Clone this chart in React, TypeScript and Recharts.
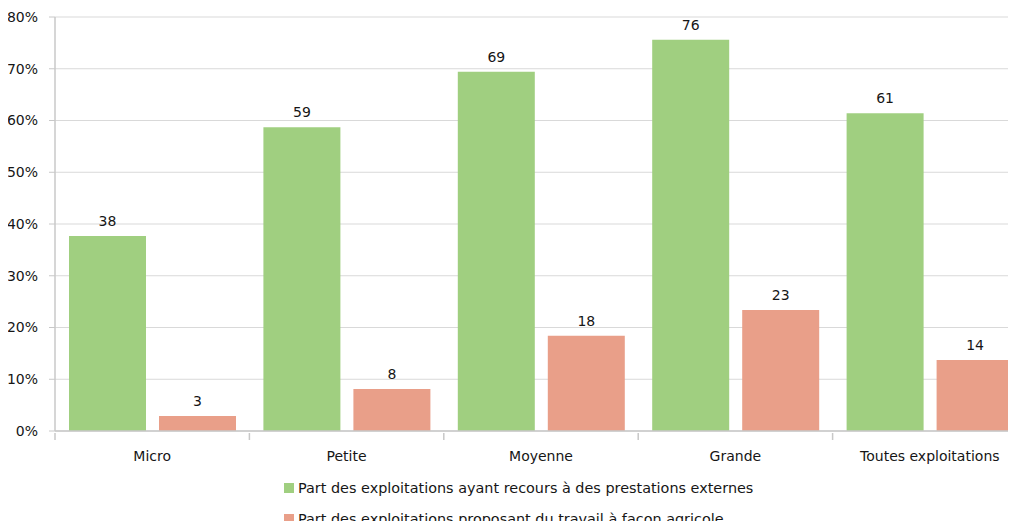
import React from 'react';
import { BarChart, Bar, XAxis, YAxis, CartesianGrid, LabelList } from 'recharts';

const categories = ['Micro', 'Petite', 'Moyenne', 'Grande', 'Toutes exploitations'];
const externes = [37.7, 58.7, 69.4, 75.6, 61.4];
const facon = [2.9, 8.1, 18.4, 23.4, 13.7];
const yTicks = [0, 10, 20, 30, 40, 50, 60, 70, 80];

const seriesNames = [
  'Part des exploitations ayant recours à des prestations externes',
  'Part des exploitations proposant du travail à façon agricole',
];
const colors = ['#a0cf80', '#e99f89'];

const data = categories.map((c, i) => ({ name: c, externes: externes[i], facon: facon[i] }));

const CHART_W = 1030;
const CHART_H = 529;
const Y_W = 55;
const M_RIGHT = 3;
const FONT = '"DejaVu Sans", "Open Sans", sans-serif';
const FS = 14;
const INK = '#161616';

const band = (CHART_W - Y_W - M_RIGHT) / categories.length;

function CatTick(props: any) {
  const { x, y, payload } = props;
  const bx = x - band / 2;
  return (
    <g>
      <line x1={bx} y1={y - 6} x2={bx} y2={y + 1} stroke="#c8c8c8" strokeWidth={1.5} />
      <text x={x} y={y + 22} textAnchor="middle" fill={INK} fontSize={FS} fontFamily={FONT}>
        {payload.value}
      </text>
    </g>
  );
}

export default function App() {
  return (
    <div style={{ margin: -8, width: 1016, height: 529, overflow: 'hidden', position: 'relative', background: '#fff' }}>
      <BarChart
        width={CHART_W}
        height={CHART_H}
        data={data}
        margin={{ top: 17, right: M_RIGHT, left: 0, bottom: 68 }}
        barCategoryGap={14}
        barGap={13}
      >
        <CartesianGrid vertical={false} stroke="#d9d9d9" />
        <XAxis
          dataKey="name"
          height={30}
          axisLine={{ stroke: '#c8c8c8', strokeWidth: 1.5 }}
          tickLine={false}
          tick={<CatTick />}
          interval={0}
        />
        <YAxis
          width={Y_W}
          domain={[0, 80]}
          ticks={yTicks}
          tickFormatter={(v) => `${v}%`}
          axisLine={{ stroke: '#c8c8c8', strokeWidth: 1.5 }}
          tickLine={{ stroke: '#c8c8c8' }}
          tickSize={6}
          tickMargin={11}
          tick={{ fill: INK, fontSize: FS, fontFamily: FONT }}
        />
        <Bar dataKey="externes" fill={colors[0]} isAnimationActive={false}>
          <LabelList
            dataKey="externes"
            position="top"
            offset={10}
            formatter={(v: any) => Math.round(Number(v))}
            style={{ fill: INK, fontSize: FS, fontFamily: FONT }}
          />
        </Bar>
        <Bar dataKey="facon" fill={colors[1]} isAnimationActive={false}>
          <LabelList
            dataKey="facon"
            position="top"
            offset={10}
            formatter={(v: any) => Math.round(Number(v))}
            style={{ fill: INK, fontSize: FS, fontFamily: FONT }}
          />
        </Bar>
      </BarChart>
      <div style={{ position: 'absolute', left: 284, top: 479, fontFamily: FONT, fontSize: 14.4, color: INK, lineHeight: '18px' }}>
        {seriesNames.map((n, i) => (
          <div key={n} style={{ display: 'flex', alignItems: 'center', height: 18, marginBottom: i === 0 ? 13 : 0 }}>
            <span style={{ width: 10, height: 10, background: colors[i], marginRight: 4, display: 'inline-block' }} />
            <span>{n}</span>
          </div>
        ))}
      </div>
    </div>
  );
}
